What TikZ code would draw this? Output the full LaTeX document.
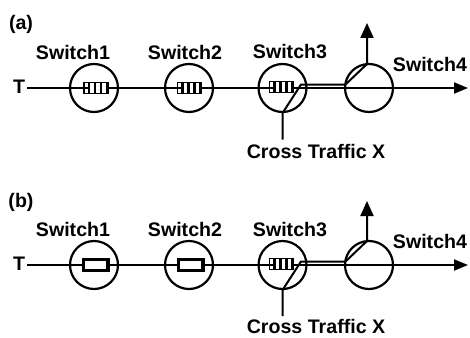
\documentclass[tikz,border=0pt]{standalone}
\usepackage{fontspec}
\setmainfont{Liberation Sans}
\usetikzlibrary{arrows.meta}
\tikzset{
  wire/.style={line width=2pt},
  sw/.style={circle, draw, line width=2.2pt, minimum size=48pt, inner sep=0pt},
  lbl/.style={font=\fontsize{19.6}{19.6}\selectfont\bfseries, inner sep=0pt},
  tip/.style={-{Triangle[length=14pt,width=11pt]}},
  uptip/.style={-{Triangle[length=15pt,width=13pt]}},
  pics/fullq/.style={code={
    \fill[white] (-8,-5.5) rectangle (12,5.5);
    \draw[line width=1.6pt] (-12,-5.5) rectangle (12,5.5);
    \foreach \bx in {-7,-1,5,11} \draw[line width=2.6pt] (\bx,-5.5) -- (\bx,5.5);
  }},
  pics/emptyq/.style={code={
    \draw[line width=2.2pt, fill=white] (-12.5,-5.5) rectangle (12.5,5.5);
    \fill (9.5,-6.6) rectangle (13.6,6.6);
  }},
}
\begin{document}
\begin{tikzpicture}[x=1pt,y=-1pt]
\useasboundingbox (0,0) rectangle (470,337);

% ---------- panel (a): queues filled along the path ----------
\node[lbl] (atag) at (21,24) {(a)};
\node[lbl] (aT) at (19,87) {T};
\coordinate (aend) at (468,88);
\node[sw] (a1) at (94,88) {};
\node[sw] (a2) at (189,88) {};
\node[sw] (a3) at (282.5,88) {};
\node[sw] (a4) at (369,88) {};
\node[lbl] (a1l) at (73,52) {Switch1};
\node[lbl] (a2l) at (185,52) {Switch2};
\node[lbl] (a3l) at (290,52) {Switch3};
\node[lbl] (a4l) at (430,64) {Switch4};
\node[lbl] (acx) at (316,151) {Cross Traffic X};
\coordinate (aup) at (367,23);

\draw[wire, tip] (aT.east) ++(2,1) -- (aend);
\draw[wire, uptip] (acx.north -| a3.south) ++(0,-4) -- (a3.south) -- (301,84.5)
  -- (345.5,84.5) -- (367,64) -- (aup);
\pic at (96,88) {fullq};
\pic at (189.5,88) {fullq};
\pic at (281.5,87) {fullq};

% ---------- panel (b): queue only at Switch3 ----------
\node[lbl] (btag) at (21,202) {(b)};
\node[lbl] (bT) at (19,264) {T};
\coordinate (bend) at (468,265);
\node[sw] (b1) at (94,265) {};
\node[sw] (b2) at (189,265) {};
\node[sw] (b3) at (282.5,265) {};
\node[sw] (b4) at (369,265) {};
\node[lbl] (b1l) at (73,229.5) {Switch1};
\node[lbl] (b2l) at (185,229.5) {Switch2};
\node[lbl] (b3l) at (290,229.5) {Switch3};
\node[lbl] (b4l) at (430,241) {Switch4};
\node[lbl] (bcx) at (316,326.5) {Cross Traffic X};
\coordinate (bup) at (367,201);

\draw[wire, tip] (bT.east) ++(2,1) -- (bend);
\draw[wire, uptip] (bcx.north -| b3.south) ++(0,-3) -- (b3.south) -- (301,261.5)
  -- (345.5,261.5) -- (367,241) -- (bup);
\pic at (96,265) {emptyq};
\pic at (191,265) {emptyq};
\pic at (281.5,264) {fullq};
\end{tikzpicture}
\end{document}
